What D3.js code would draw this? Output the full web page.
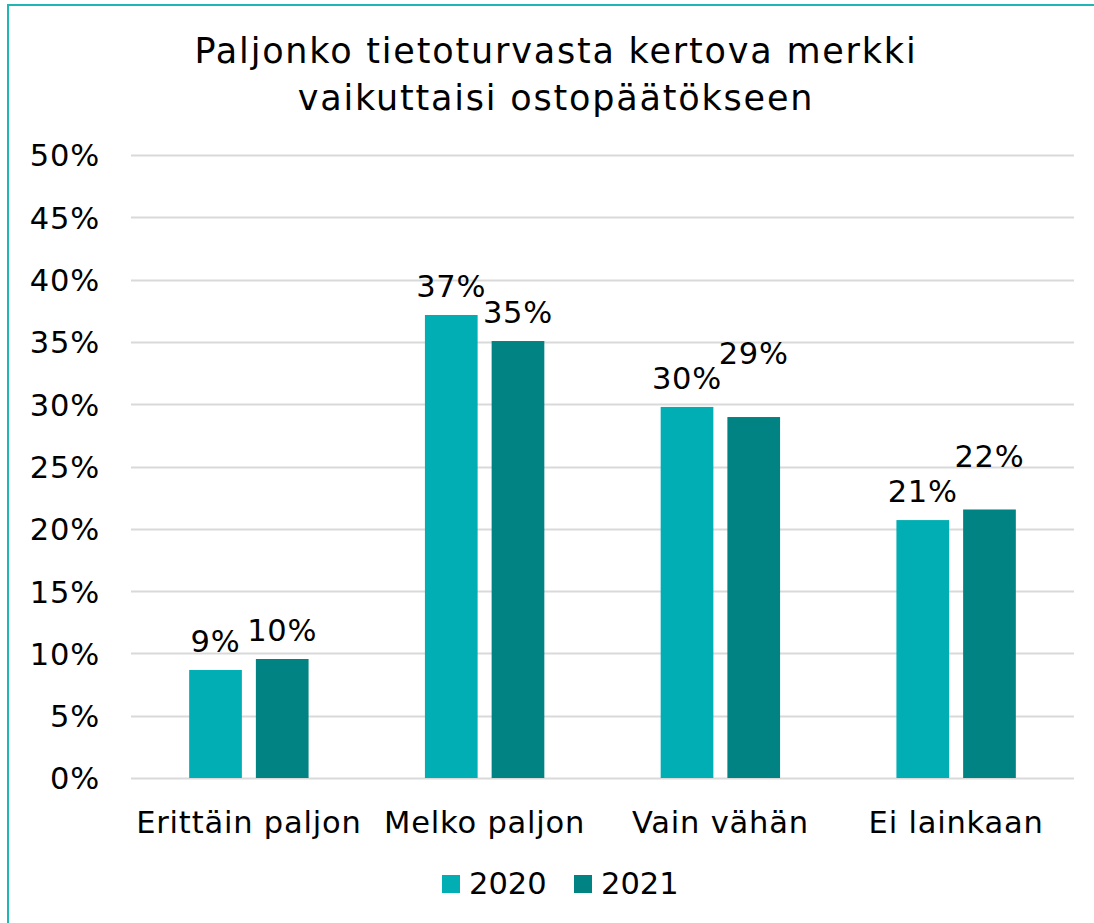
<!DOCTYPE html>
<html><head><meta charset="utf-8">
<script src="https://cdn.jsdelivr.net/npm/d3@7"></script>
<style>
html,body{margin:0;padding:0;background:#fff;}
svg{display:block;font-family:"DejaVu Sans",Verdana,sans-serif;}
</style></head>
<body>
<svg id="chart" width="1094" height="923"></svg>
<script>
const titleLines = ["Paljonko tietoturvasta kertova merkki", "vaikuttaisi ostopäätökseen"];
const categories = ["Erittäin paljon", "Melko paljon", "Vain vähän", "Ei lainkaan"];
const seriesNames = ["2020", "2021"];
const values2020 = [0.0867, 0.3716, 0.2978, 0.2070];
const values2021 = [0.0955, 0.3507, 0.2897, 0.2155];
const yTicks = [0, 0.05, 0.10, 0.15, 0.20, 0.25, 0.30, 0.35, 0.40, 0.45, 0.50];
const colors = ["#00AEB3", "#008382"];

const svg = d3.select("#chart");
const FS = 30.5;
const LS = 0.8;

// border
svg.append("rect").attr("x", 8).attr("y", 5).attr("width", 1200).attr("height", 1000)
  .attr("fill", "none").attr("stroke", "#22B5B5").attr("stroke-width", 2);

// title
svg.append("text").attr("x", 556).attr("y", 63).attr("text-anchor", "middle")
  .attr("font-size", 35).attr("letter-spacing", 1.8).attr("fill", "#000")
  .selectAll("tspan").data(titleLines).join("tspan")
  .attr("x", 556).attr("dy", (d, i) => i === 0 ? 0 : 47).text(d => d);

const x0 = d3.scaleBand().domain(categories).range([131, 1074]).paddingInner(0).paddingOuter(0);
const x1 = d3.scaleBand().domain(seriesNames).range([0, x0.bandwidth()]).paddingInner(0.21).paddingOuter(0.872);
const y = d3.scaleLinear().domain([0, 0.5]).range([778, 155]);
const fmt = d3.format(".0%");

// gridlines
svg.append("g").selectAll("line").data(yTicks).join("line")
  .attr("x1", 131).attr("x2", 1074)
  .attr("y1", d => Math.round(y(d)) + 0.5).attr("y2", d => Math.round(y(d)) + 0.5)
  .attr("stroke", "#D9D9D9").attr("stroke-width", 2);

// y axis labels
const yAxis = d3.axisLeft(y).tickValues(yTicks).tickFormat(fmt).tickSize(0).tickPadding(0);
const gy = svg.append("g").attr("transform", "translate(100,0)").call(yAxis);
gy.select(".domain").remove();
gy.selectAll("text").attr("font-size", FS).attr("fill", "#000").attr("letter-spacing", LS)
  .attr("font-family", "DejaVu Sans, Verdana, sans-serif").attr("dy", "0.36em");

// x axis labels
const xAxis = d3.axisBottom(x0).tickSize(0).tickPadding(0);
const gx = svg.append("g").attr("transform", "translate(0,833)").call(xAxis);
gx.select(".domain").remove();
gx.selectAll("text").attr("font-size", FS).attr("fill", "#000").attr("letter-spacing", LS)
  .attr("font-family", "DejaVu Sans, Verdana, sans-serif").attr("dy", 0).attr("y", 0);

// bars
const data = categories.map((c, i) => ({cat: c, vals: [values2020[i], values2021[i]]}));
const groups = svg.append("g").selectAll("g").data(data).join("g")
  .attr("transform", d => `translate(${x0(d.cat)},0)`);
groups.selectAll("rect").data(d => d.vals.map((v, j) => ({s: seriesNames[j], v, j}))).join("rect")
  .attr("x", d => x1(d.s)).attr("width", x1.bandwidth())
  .attr("y", d => y(d.v)).attr("height", d => y(0) - y(d.v))
  .attr("fill", d => colors[d.j]);

// data labels with simple collision avoidance
const labelLayer = svg.append("g");
data.forEach(d => {
  const placed = [];
  d.vals.forEach((v, j) => {
    const cx = x0(d.cat) + x1(seriesNames[j]) + x1.bandwidth() / 2;
    let base = y(v) - 18;
    const t = labelLayer.append("text").attr("x", cx).attr("y", base)
      .attr("text-anchor", "middle").attr("font-size", FS).attr("letter-spacing", LS)
      .attr("fill", "#000").text(fmt(v));
    const w = t.node().getComputedTextLength();
    const h = 23;
    placed.forEach(p => {
      const hOverlap = Math.abs(p.cx - cx) < (p.w + w) / 2;
      const vOverlap = Math.abs(p.base - base) < h + 2;
      if (hOverlap && vOverlap) {
        base = Math.min(base, p.base) - 24.5;
        t.attr("y", base);
      }
    });
    placed.push({cx, w, base});
  });
});

// legend
const legend = svg.append("g");
const legX = [442, 574];
seriesNames.forEach((s, i) => {
  legend.append("rect").attr("x", legX[i]).attr("y", 875).attr("width", 18).attr("height", 18).attr("fill", colors[i]);
  legend.append("text").attr("x", legX[i] + 27).attr("y", 894).attr("font-size", FS).attr("fill", "#000").text(s);
});
</script>
</body></html>
